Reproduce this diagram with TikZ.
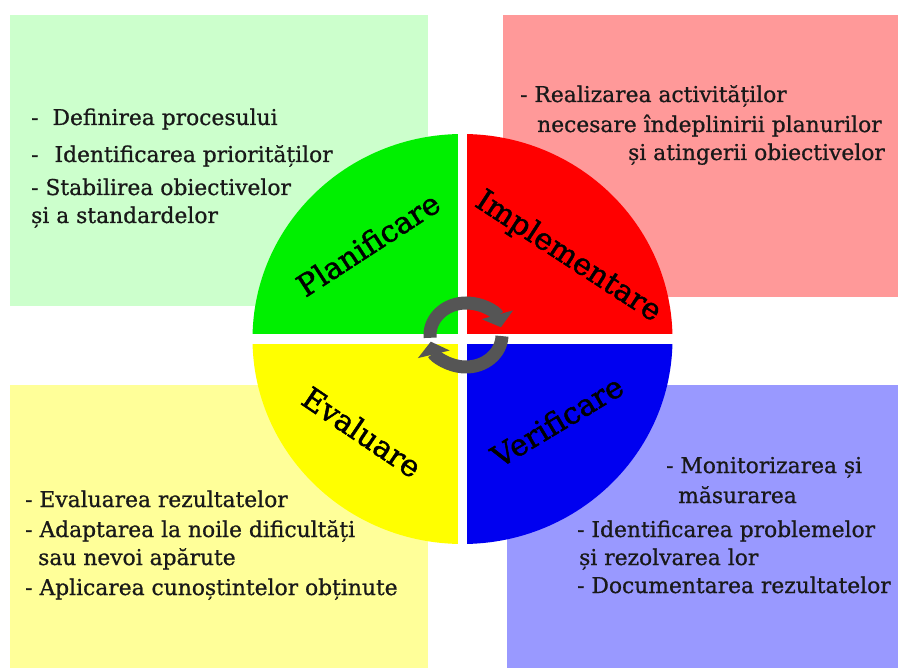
\documentclass[tikz,border=0pt]{standalone}
\usepackage{fontspec}
\newfontfamily\slab[FakeBold=0.8]{DejaVu Serif}
\newfontfamily\slablabel[FakeBold=1.6]{DejaVu Serif}
\usetikzlibrary{arrows.meta}
\definecolor{boxgreen}{HTML}{CCFFCC}
\definecolor{boxred}{HTML}{FF9999}
\definecolor{boxyellow}{HTML}{FFFF99}
\definecolor{boxblue}{HTML}{9999FF}
\definecolor{qgreen}{HTML}{00F000}
\definecolor{qred}{HTML}{FF0000}
\definecolor{qyellow}{HTML}{FFFF00}
\definecolor{qblue}{HTML}{0000F0}
\definecolor{arrowgray}{HTML}{555555}
\begin{document}
\begin{tikzpicture}[x=1pt,y=1pt,
  bodytext/.style={anchor=base west, inner sep=0pt, text=black!90,
    font={\slab\fontsize{21.8pt}{25pt}\selectfont}},
  quadlabel/.style={inner sep=0pt, text=black,
    font={\slablabel\fontsize{30pt}{34pt}\selectfont}},
  cyclearrow/.style={draw=arrowgray, line width=13pt,
    -{Triangle[width=32pt,length=13pt]}}]
\useasboundingbox (0,0) rectangle (901,670);
\fill[white] (0,0) rectangle (901,670);
% background boxes
\fill[boxgreen] (10,364) rectangle (428,655);
\fill[boxred] (503,373) rectangle (898,655);
\fill[boxyellow] (10,2) rectangle (428,285);
\fill[boxblue] (507,2) rectangle (898,285);
% quadrants
\coordinate (C) at (462.5,331);
\fill[qred] (C) -- (672.5,331) arc[start angle=0,end angle=90,x radius=210,y radius=205] -- cycle;
\fill[qgreen] (C) -- (462.5,536) arc[start angle=90,end angle=180,x radius=210,y radius=205] -- cycle;
\fill[qyellow] (C) -- (252.5,331) arc[start angle=180,end angle=270,x radius=210,y radius=205] -- cycle;
\fill[qblue] (C) -- (462.5,126) arc[start angle=270,end angle=360,x radius=210,y radius=205] -- cycle;
\fill[white] (458,120) rectangle (467,542);
\fill[white] (248,326) rectangle (677,336);
% cycle arrows
\coordinate (A) at (466,335);
\draw[cyclearrow] (A) ++(185:36 and 32) arc[start angle=185,end angle=14,x radius=36,y radius=32];
\draw[cyclearrow] (A) ++(-2:36 and 32) arc[start angle=-2,end angle=-168,x radius=36,y radius=32];
% quadrant labels
\node[quadlabel, rotate=33] (plan) at (368,426) {Planificare};
\node[quadlabel, rotate=-33] (impl) at (568,413) {Implementare};
\node[quadlabel, rotate=-34] (eval) at (362,238) {Evaluare};
\node[quadlabel, rotate=31] (veri) at (557,249) {Verificare};
% green box text
\node[bodytext] (g1) at (31,545) {-\hspace{14pt}Definirea procesului};
\node[bodytext] (g2) at (31,508) {-\hspace{16pt}Identificarea priorităților};
\node[bodytext] (g3) at (31,475) {- Stabilirea obiectivelor};
\node[bodytext] (g4) at (31,447) {și a standardelor};
% red box text
\node[bodytext] (r1) at (520,568) {- Realizarea activităților};
\node[bodytext] (r2) at (537,538) {necesare îndeplinirii planurilor};
\node[bodytext, anchor=base east] (r3) at (885,510) {și atingerii obiectivelor};
% yellow box text
\node[bodytext] (y1) at (25,163) {- Evaluarea rezultatelor};
\node[bodytext] (y2) at (25,133) {- Adaptarea la noile dificultăți};
\node[bodytext] (y3) at (38,105) {sau nevoi apărute};
\node[bodytext] (y4) at (25,75) {- Aplicarea cunoștintelor obținute};
% blue box text
\node[bodytext] (b1) at (666,197) {- Monitorizarea și};
\node[bodytext] (b2) at (678,167) {măsurarea};
\node[bodytext] (b3) at (577,133) {- Identificarea problemelor};
\node[bodytext] (b4) at (579,105) {și rezolvarea lor};
\node[bodytext] (b5) at (577,77) {- Documentarea rezultatelor};
\end{tikzpicture}
\end{document}
